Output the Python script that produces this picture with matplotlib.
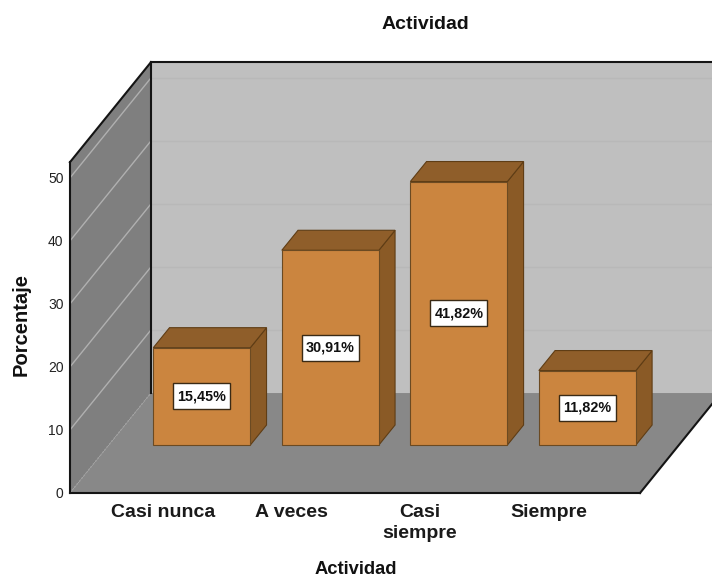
import matplotlib
matplotlib.use('Agg')
import matplotlib.pyplot as plt
from matplotlib.patches import Polygon

plt.rcParams['font.family'] = ['Liberation Sans', 'DejaVu Sans']

categories = ['Casi nunca', 'A veces', 'Casi\nsiempre', 'Siempre']
values = [15.45, 30.91, 41.82, 11.82]
value_labels = ['15,45%', '30,91%', '41,82%', '11,82%']
y_ticks = [0, 10, 20, 30, 40, 50]

# Falso 3D: x en unidades de categoria, y en porcentaje
depth_x = 0.63
depth_y = 15.87
x_left = -0.724
x_right = 3.712
y_top = 52.5
bar_width = 0.755
bar_front = 0.48
bar_depth = 0.2
box_w = 0.222
box_h = 2.06


def project(x, v, d=0.0):
    return (x + d * depth_x, v + d * depth_y)


fig = plt.figure(figsize=(7.12, 5.77), dpi=100)
ax = fig.add_axes([0, 0, 1, 1])
ax.set_xlim(-1.268, 4.272)
ax.set_ylim(-13.33, 78.25)
ax.axis('off')

# Paredes y suelo
ax.add_patch(Polygon([project(x_left, 0, 1), project(x_right, 0, 1),
                      project(x_right, y_top, 1), project(x_left, y_top, 1)],
                     facecolor='#bfbfbf', edgecolor='none', zorder=1))
ax.add_patch(Polygon([project(x_left, 0), project(x_left, 0, 1),
                      project(x_left, y_top, 1), project(x_left, y_top)],
                     facecolor='#7f7f7f', edgecolor='none', zorder=1))
ax.add_patch(Polygon([project(x_left, 0), project(x_right, 0),
                      project(x_right, 0, 1), project(x_left, 0, 1)],
                     facecolor='#888888', edgecolor='none', zorder=2))

# Rejilla
for t in y_ticks[1:]:
    a, b, c = project(x_left, t), project(x_left, t, 1), project(x_right, t, 1)
    ax.plot([a[0], b[0]], [a[1], b[1]], color='#b0b0b0', lw=1, zorder=3)
    ax.plot([b[0], c[0]], [b[1], c[1]], color='#b8b8b8', lw=1, zorder=1.5)

# Bordes negros
a, b = project(x_left, 0), project(x_left, 0, 1)
ax.plot([a[0], b[0]], [a[1], b[1]], color='#a0a0a0', lw=1, ls=':', zorder=3)
for p, q in [(project(x_left, 0), project(x_left, y_top)),
             (project(x_left, y_top), project(x_left, y_top, 1)),
             (project(x_left, y_top, 1), project(x_right, y_top, 1)),
             (project(x_left, 0.0, 1), project(x_left, y_top, 1)),
             (project(x_left, 0), project(x_right, 0)),
             (project(x_right, 0), project(x_right, 0, 1))]:
    ax.plot([p[0], q[0]], [p[1], q[1]], color='#141414', lw=1.5, zorder=3,
            solid_capstyle='projecting')

# Barras
for i, v in enumerate(values):
    left = i - bar_width / 2
    right = i + bar_width / 2
    d0 = bar_front
    d1 = bar_front + bar_depth
    base = 0
    front = [project(left, base, d0), project(right, base, d0),
             project(right, v, d0), project(left, v, d0)]
    side = [project(right, base, d0), project(right, base, d1),
            project(right, v, d1), project(right, v, d0)]
    top = [project(left, v, d0), project(right, v, d0),
           project(right, v, d1), project(left, v, d1)]
    ax.add_patch(Polygon(side, facecolor='#8a5a26', edgecolor='#5f3d15', lw=0.8, zorder=4))
    ax.add_patch(Polygon(top, facecolor='#8f5e2a', edgecolor='#5f3d15', lw=0.8, zorder=4))
    ax.add_patch(Polygon(front, facecolor='#cb853f', edgecolor='#6b4a22', lw=0.8, zorder=5))
    cx, cy = project(i, v / 2, d0)
    ax.add_patch(Polygon([(cx - box_w, cy - box_h), (cx + box_w, cy - box_h),
                          (cx + box_w, cy + box_h), (cx - box_w, cy + box_h)],
                         facecolor='white', edgecolor='#3a2a15', lw=1, zorder=6))
    ax.text(cx, cy, value_labels[i], ha='center', va='center', fontsize=10.4,
            fontweight='bold', color='#111111', zorder=7)

# Textos de ejes
for t in y_ticks:
    ax.text(x_left - 0.05, t - 0.1, str(t), ha='right', va='center',
            fontsize=10, color='#222222')
for i, c in enumerate(categories):
    ax.text(i, -1.75, c, ha='center', va='top', fontsize=14, fontweight='bold',
            color='#1a1a1a', linespacing=1.3)

ax.text(2.04, 74.3, 'Actividad', ha='center', va='center', fontsize=14,
        fontweight='bold', color='#111111')
ax.text(1.5, -12.1, 'Actividad', ha='center', va='center', fontsize=13.2,
        fontweight='bold', color='#111111')
ax.text(-1.1, 26.8, 'Porcentaje', ha='center', va='center', rotation=90,
        fontsize=14.5, fontweight='bold', color='#111111')

fig.savefig('out.png', dpi=100)
